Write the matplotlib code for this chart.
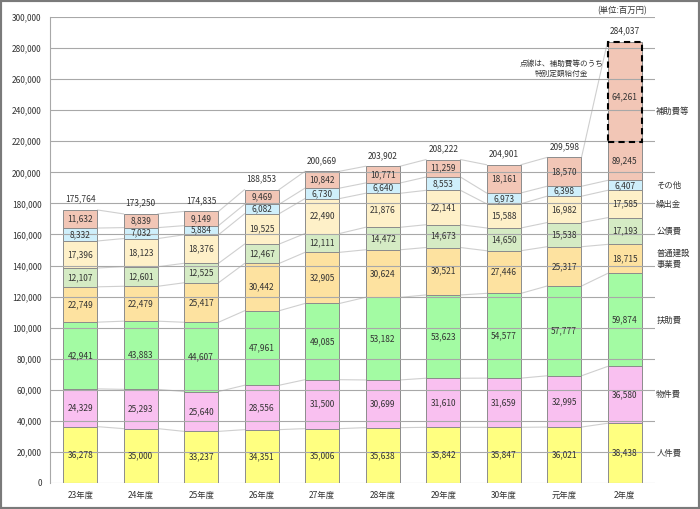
import numpy as np
import matplotlib
matplotlib.use('Agg')
import matplotlib.pyplot as plt
from matplotlib.patches import Rectangle

plt.rcParams['font.family'] = ['Noto Sans CJK JP', 'DejaVu Sans']

years = ['23年度', '24年度', '25年度', '26年度', '27年度', '28年度', '29年度', '30年度', '元年度', '2年度']

# 下から順に積み上げ
jinken = [36278, 35000, 33237, 34351, 35006, 35638, 35842, 35847, 36021, 38438]
bukken = [24329, 25293, 25640, 28556, 31500, 30699, 31610, 31659, 32995, 36580]
fujo = [42941, 43883, 44607, 47961, 49085, 53182, 53623, 54577, 57777, 59874]
futsu = [22749, 22479, 25417, 30442, 32905, 30624, 30521, 27446, 25317, 18715]
kousai = [12107, 12601, 12525, 12467, 12111, 14472, 14673, 14650, 15538, 17193]
kuri = [17396, 18123, 18376, 19525, 22490, 21876, 22141, 15588, 16982, 17585]
sonota = [8332, 7032, 5884, 6082, 6730, 6640, 8553, 6973, 6398, 6407]
hojo = [11632, 8839, 9149, 9469, 10842, 10771, 11259, 18161, 18570, 89245]
tokubetsu = 64261  # 2年度 補助費等のうち特別定額給付金

series = [jinken, bukken, fujo, futsu, kousai, kuri, sonota, hojo]
names = ['人件費', '物件費', '扶助費', '普通建設\n事業費', '公債費', '繰出金', 'その他', '補助費等']
colors = ['#FFFF80', '#F9C0F0', '#A3FBA3', '#FDE2A0', '#D5EBC4', '#FEF0C8', '#CFEFFB', '#F2C6B6']

fs = 6
tc = '#333333'

fig = plt.figure(figsize=(7, 5.09), dpi=100)
ax = fig.add_axes([50 / 700, 1 - 483 / 509, 605 / 700, 466 / 509])

x = np.arange(len(years))
w = 0.57
last = len(years) - 1
bottom = np.zeros(len(years))
tops = []
for k, (vals, col) in enumerate(zip(series, colors)):
    vals = np.array(vals)
    ax.bar(x, vals, w, bottom=bottom, color=col, edgecolor='#8c8c8c', linewidth=0.7, zorder=2)
    for i in range(len(years)):
        yc = bottom[i] + vals[i] / 2
        if k == len(series) - 1 and i == last:
            yc = bottom[i] + (vals[i] - tokubetsu) / 2
        ax.text(x[i], yc, f'{vals[i]:,}', ha='center', va='center', fontsize=fs, color=tc, zorder=4)
    bottom = bottom + vals
    tops.append(bottom.copy())

# 区切り線(棒の間を結ぶ)
for t in tops:
    for i in range(len(years) - 1):
        ax.plot([x[i] + w / 2, x[i + 1] - w / 2], [t[i], t[i + 1]], color='#cfcfcf', lw=0.8, zorder=1)

# 合計
for i in range(len(years)):
    ax.text(x[i], bottom[i] + 4000, f'{int(bottom[i]):,}', ha='center', va='bottom', fontsize=fs, color=tc)

# 特別定額給付金(点線)
ax.add_patch(Rectangle((x[last] - w / 2, bottom[last] - tokubetsu), w, tokubetsu, fill=False,
                       edgecolor='black', linestyle=(0, (3, 2)), linewidth=1.5, zorder=5))
ax.text(x[last], bottom[last] - tokubetsu / 2 - 3000, f'{tokubetsu:,}', ha='center', va='center',
        fontsize=fs, color=tc, zorder=6)
ax.text(7.95, 266500, '点線は、補助費等のうち\n特別定額給付金', ha='center', va='center', fontsize=5.5,
        color=tc, linespacing=1.4)

# 右側の項目名
prev = np.zeros(len(years))
for t, nm in zip(tops, names):
    ym = (prev[last] + t[last]) / 2
    ax.text(9.52, ym, nm, ha='left', va='center', fontsize=fs, color=tc, linespacing=1.3)
    prev = t

ax.text(9.37, 301000, '(単位:百万円)', ha='right', va='bottom', fontsize=fs, color=tc)

ax.set_xlim(-0.5, 9.5)
ax.set_ylim(0, 300000)
ax.set_yticks(np.arange(0, 300001, 20000))
ax.set_yticklabels([f'{v:,}' for v in range(0, 300001, 20000)], fontsize=fs, color=tc)
ax.set_xticks(x)
ax.set_xticklabels(years, fontsize=fs, color=tc)
ax.tick_params(length=0, pad=6)
ax.yaxis.grid(True, color='#a8a8a8', lw=0.8, zorder=3)
ax.set_axisbelow(False)
for s in ['top', 'right', 'bottom']:
    ax.spines[s].set_visible(False)
ax.spines['left'].set_color('#a8a8a8')

fig.patches.append(Rectangle((0, 0), 1, 1, transform=fig.transFigure, fill=False,
                             edgecolor='#7a7a7a', linewidth=3))

fig.savefig('out.png', dpi=100)
